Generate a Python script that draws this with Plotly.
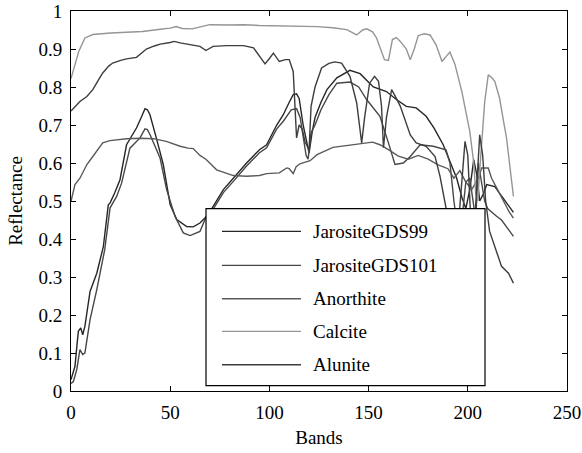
import plotly.graph_objects as go

# ---------------- data ----------------
names = ["JarositeGDS99", "JarositeGDS101", "Anorthite", "Calcite", "Alunite"]
colors = ["#262626", "#474747", "#5a5a5a", "#959595", "#3d3d3d"]

jar99_x = [0, 1, 2, 3, 3.7, 4.9, 5.9, 7, 9.6, 13, 16.3, 18.8, 19.7, 22, 24.7, 28, 33, 35, 37.3, 38.5,
           39.8, 43, 46.5, 50, 53.3, 58.3, 61.6, 65, 67.5, 70.9, 76.8, 82.7, 88.5, 95, 98.6, 103.7,
           107, 110, 112, 113.7, 115, 117, 119, 120, 121.5, 123, 126, 129, 134, 140.6, 145.7, 152.4,
           159, 164, 169, 174, 179, 183, 187.6, 191, 194.4, 197, 199, 201, 203, 204.5, 206, 208,
           209.5, 213.6, 216, 218, 221, 223]
jar99_y = [0.03, 0.045, 0.065, 0.12, 0.157, 0.166, 0.148, 0.17, 0.262, 0.31, 0.38, 0.49, 0.495, 0.521,
           0.556, 0.648, 0.692, 0.715, 0.743, 0.74, 0.727, 0.666, 0.596, 0.49, 0.451, 0.433, 0.432,
           0.442, 0.455, 0.479, 0.53, 0.565, 0.60, 0.635, 0.648, 0.70, 0.727, 0.76, 0.78, 0.782, 0.77,
           0.70, 0.645, 0.626, 0.68, 0.72, 0.76, 0.793, 0.824, 0.844, 0.835, 0.80, 0.788, 0.767,
           0.749, 0.745, 0.723, 0.692, 0.648, 0.604, 0.56, 0.51, 0.48, 0.53, 0.609, 0.57, 0.50,
           0.52, 0.543, 0.538, 0.52, 0.505, 0.482, 0.47]

jar101_x = [0, 1.2, 2.9, 4.5, 5.9, 7, 9.6, 13, 17, 19.7, 23, 25.5, 29.7, 34.8, 37.3, 38.5, 39.8, 44.9,
            48.2, 51.2, 52.4, 56.6, 60, 65, 67.5, 70.9, 76.8, 82.7, 88.5, 95, 98.6, 103.7, 107, 111,
            113.7, 115.5, 117, 118.5, 119.5, 121, 123, 126, 130, 134, 140.6, 145, 149, 155.7, 160,
            163.3, 167.5, 171, 176, 182.6, 189, 191, 193, 195, 197, 199, 201, 202.5, 204, 205.3, 207,
            208.5, 210, 212, 214.5, 217, 220, 223]
jar101_y = [0.02, 0.025, 0.056, 0.109, 0.096, 0.10, 0.188, 0.267, 0.372, 0.482, 0.512, 0.547, 0.639,
            0.666, 0.69, 0.688, 0.675, 0.613, 0.53, 0.48, 0.46, 0.416, 0.409, 0.42, 0.451, 0.472,
            0.522, 0.557, 0.592, 0.627, 0.64, 0.69, 0.71, 0.74, 0.743, 0.72, 0.666, 0.62, 0.61, 0.68,
            0.70, 0.74, 0.78, 0.81, 0.813, 0.80, 0.767, 0.723, 0.653, 0.596, 0.60, 0.617, 0.648,
            0.644, 0.635, 0.60, 0.50, 0.42, 0.45, 0.55, 0.56, 0.50, 0.45, 0.60, 0.55, 0.50, 0.48,
            0.47, 0.46, 0.45, 0.43, 0.407]

anor_x = [0, 2, 4.5, 8, 11, 16, 19.6, 28, 35, 41.5, 48, 55, 59, 61.6, 65, 68, 73.4, 77, 81.8, 88.5,
          95, 98.6, 105, 108.7, 110, 112, 113.5, 115.4, 120.5, 124, 132, 140.6, 149, 152, 155.7,
          157.4, 160, 165, 170, 175, 180, 185, 190, 193, 196, 199, 202, 205.3, 207, 210.3, 212, 215,
          218, 221, 223]
anor_y = [0.499, 0.543, 0.56, 0.596, 0.617, 0.653, 0.659, 0.664, 0.665, 0.664, 0.657, 0.644, 0.639,
          0.638, 0.62, 0.61, 0.582, 0.575, 0.567, 0.565, 0.567, 0.572, 0.574, 0.587, 0.585, 0.572,
          0.59, 0.598, 0.606, 0.622, 0.641, 0.647, 0.652, 0.655, 0.648, 0.642, 0.635, 0.618, 0.61,
          0.62, 0.61, 0.595, 0.585, 0.56, 0.58, 0.55, 0.53, 0.56, 0.587, 0.587, 0.56, 0.53, 0.50,
          0.47, 0.455]

calc_x = [0, 2, 4, 7, 11, 20, 30, 36, 45, 50, 53, 56, 61, 65, 70, 80, 87, 95, 105, 115, 124, 132,
          139, 144, 147, 149, 152, 154, 156, 158, 160, 162, 164, 166, 169, 171, 173, 175, 178, 181,
          184, 187, 189, 191, 193.5, 197, 201, 203, 204, 205, 206, 207, 208.5, 210.3, 212, 213.6,
          215, 216, 218, 219.5, 221, 222, 223]
calc_y = [0.822, 0.86, 0.895, 0.929, 0.938, 0.942, 0.945, 0.946, 0.952, 0.955, 0.959, 0.954, 0.953,
          0.958, 0.964, 0.963, 0.964, 0.962, 0.961, 0.96, 0.959, 0.956, 0.951, 0.937, 0.95, 0.953,
          0.945, 0.929, 0.90, 0.872, 0.87, 0.925, 0.93, 0.92, 0.90, 0.872, 0.90, 0.935, 0.94, 0.937,
          0.911, 0.867, 0.88, 0.892, 0.86, 0.788, 0.683, 0.60, 0.52, 0.50, 0.58, 0.661, 0.76, 0.832,
          0.825, 0.815, 0.79, 0.771, 0.71, 0.667, 0.60, 0.56, 0.512]

alun_x = [0, 2, 4.5, 8, 11, 14, 16, 19, 21, 25, 28, 33, 36, 38, 42, 45, 50, 52, 55, 58, 62, 65, 68,
          71.6, 78.5, 87, 92, 94, 97.8, 100, 102, 105, 108, 110, 112, 113.7, 115, 116.5, 118, 120,
          121, 123, 126.3, 130, 133, 136.4, 140.6, 144, 146.5, 148, 150.5, 153, 155, 156.5, 157.5,
          159, 161.6, 164, 166, 171, 174, 179, 183.5, 186, 189, 192, 195, 197, 198.6, 200, 201.5,
          203, 204.5, 206, 207.5, 209, 211, 214.5, 217, 220.5, 223]
alun_y = [0.737, 0.748, 0.762, 0.775, 0.793, 0.82, 0.837, 0.855, 0.863, 0.87, 0.874, 0.878, 0.89, 0.90,
          0.908, 0.913, 0.917, 0.92, 0.916, 0.913, 0.91, 0.907, 0.896, 0.907, 0.909, 0.909, 0.903,
          0.889, 0.861, 0.875, 0.889, 0.867, 0.872, 0.872, 0.841, 0.666, 0.70, 0.69, 0.655, 0.635,
          0.749, 0.80, 0.85, 0.862, 0.866, 0.863, 0.828, 0.758, 0.653, 0.72, 0.81, 0.828, 0.815,
          0.75, 0.64, 0.72, 0.793, 0.77, 0.749, 0.674, 0.653, 0.644, 0.617, 0.565, 0.486, 0.40,
          0.42, 0.56, 0.657, 0.62, 0.45, 0.40, 0.55, 0.674, 0.62, 0.50, 0.42, 0.363, 0.328, 0.31,
          0.284]

xs = [jar99_x, jar101_x, anor_x, calc_x, alun_x]
ys = [jar99_y, jar101_y, anor_y, calc_y, alun_y]

x_ticks = [0, 50, 100, 150, 200, 250]
y_ticks = [0, 0.1, 0.2, 0.3, 0.4, 0.5, 0.6, 0.7, 0.8, 0.9, 1]
y_ticktext = ["0", "0.1", "0.2", "0.3", "0.4", "0.5", "0.6", "0.7", "0.8", "0.9", "1"]

# ---------------- figure ----------------
FONT = "Liberation Serif, Times New Roman, serif"
fig = go.Figure()
for n, c, x, y in zip(names, colors, xs, ys):
    fig.add_trace(go.Scatter(x=x, y=y, name=n, mode="lines",
                             line=dict(color=c, width=1.4), showlegend=False))

axis_common = dict(showline=True, linecolor="black", linewidth=1, mirror="ticks",
                   ticks="inside", ticklen=5, tickcolor="black", showgrid=False,
                   zeroline=False, automargin=False,
                   tickfont=dict(family=FONT, size=19, color="black"))

fig.update_layout(
    width=582, height=453,
    margin=dict(l=71, r=15, t=11, b=62),
    paper_bgcolor="white", plot_bgcolor="white",
    font=dict(family=FONT, color="black"),
    xaxis=dict(range=[0, 250], tickvals=x_ticks, ticklabelstandoff=4,
               title=dict(text="Bands", font=dict(family=FONT, size=19), standoff=8),
               **axis_common),
    yaxis=dict(range=[0, 1], tickvals=y_ticks, ticktext=y_ticktext, ticklabelstandoff=4,
               title=dict(text="Reflectance", font=dict(family=FONT, size=19), standoff=10),
               **axis_common),
)

# ---------------- legend box (MATLAB style, long line samples) ----------------
lx0, lx1, ly0, ly1 = 0.2722, 0.8347, 0.014, 0.4797
fig.add_shape(type="rect", xref="paper", yref="paper", x0=lx0, x1=lx1, y0=ly0, y1=ly1,
              line=dict(color="black", width=1.2), fillcolor="white", layer="above")
row_y = [0.42, 0.3305, 0.2429, 0.1568, 0.0692]
for n, c, ry in zip(names, colors, row_y):
    fig.add_shape(type="line", xref="paper", yref="paper", x0=0.3044, x1=0.4637, y0=ry, y1=ry,
                  line=dict(color=c, width=1.4), layer="above")
    fig.add_annotation(xref="paper", yref="paper", x=0.4839, y=ry, text=n, showarrow=False,
                       xanchor="left", yanchor="middle",
                       font=dict(family=FONT, size=19, color="black"))

fig.write_html("out.html", config={"displayModeBar": False},
               post_script="document.body.style.margin='0';document.body.style.overflow='hidden';")
